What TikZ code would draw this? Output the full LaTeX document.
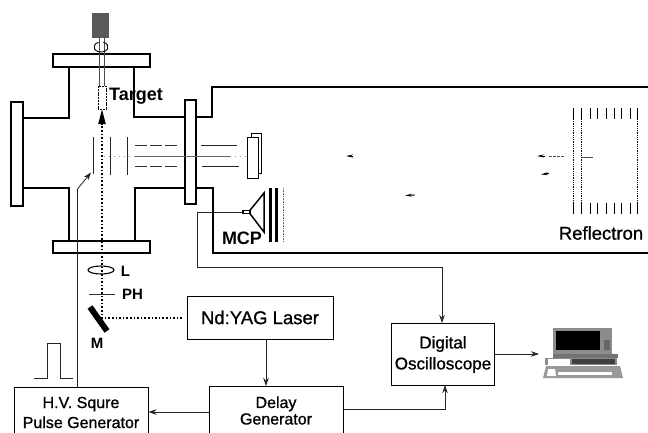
\documentclass[tikz,border=0pt]{standalone}
\usepackage{fontspec}
\setmainfont{Liberation Sans}
\newfontfamily\lab[FakeBold=0.9]{Liberation Sans}
\usetikzlibrary{arrows.meta}
\tikzset{
  x=1bp,y=-1bp,
  >={Stealth[length=8bp,width=5.5bp]},
  wall/.style={line width=2bp,black,line join=miter},
  flange/.style={draw=black,line width=2bp,fill=white},
  wire/.style={line width=0.8bp,black!85},
  plate/.style={line width=1bp,black!85},
  optic/.style={line width=1.6bp,black,dash pattern=on 1.6bp off 2bp},
  box/.style={draw=black,line width=1bp,fill=white,inner sep=0pt,align=center,font=\lab\fontsize{16bp}{20bp}\selectfont},
  bigtext/.style={inner sep=0pt,font=\lab\fontsize{18.5bp}{22bp}\selectfont},
  boldtext/.style={inner sep=0pt,font=\bfseries\fontsize{18bp}{22bp}\selectfont},
  smalltext/.style={inner sep=0pt,font=\bfseries\fontsize{15bp}{18bp}\selectfont},
  grid/.style={line width=0.9bp,black},
  griddot/.style={line width=1bp,black,dash pattern=on 0.9bp off 0.9bp},
  ion/.style={line width=0.9bp,black},
}
\begin{document}
\begin{tikzpicture}
\useasboundingbox (0,0) rectangle (648,432);
% vacuum chamber walls
\draw[wall] (69,67) -- (69,118) -- (23,118);
\draw[wall] (23,188) -- (69,188) -- (69,241);
\draw[wall] (134,67) -- (134,117) -- (185,117);
\draw[wall] (134.5,241) -- (134.5,188) -- (185,188);
\draw[wall] (196,117) -- (212,117) -- (212,87) -- (648,87);
\draw[wall] (196,188) -- (213,188) -- (213,253) -- (648,253);
% flanges
\draw[flange] (53,54) rectangle (150,67);
\draw[flange] (53,241) rectangle (150,253);
\draw[flange] (11,102) rectangle (22.5,206);
\draw[flange] (185,100) rectangle (196,204);
% target holder
\fill[black!65] (92,13) rectangle (109,38);
\draw[line width=0.8bp,black!70] (99,38) -- (99,86) (104,38) -- (104,86);
\draw[line width=0.9bp,black,dash pattern=on 2bp off 0.8bp,fill=white] (98,86) rectangle (106,109);
\draw[line width=0.9bp,black] (103.4,42.3) arc[start angle=-70,end angle=250,x radius=7,y radius=5];
\node[boldtext,anchor=west] (target) at (109,96) {Target};
% extraction plates and lenses
\coordinate (plateA) at (93.5,174);
\draw[plate] (93.5,137) -- (plateA);
\draw[plate] (110,137) -- (110,175);
\draw[plate] (127,137) -- (127,175);
\draw[line width=1bp,black!80,dash pattern=on 12bp off 3bp] (135,145.5) -- (178,145.5) (135,166) -- (178,166);
\draw[plate] (201,145.5) -- (237,145.5) (202,166) -- (239,166);
\draw[line width=0.6bp,black!60] (135,156) -- (230,156);
\draw[line width=0.5bp,black!45,dash pattern=on 1bp off 4bp] (104,156) -- (135,156) (230,156) -- (262,156);
% mass gate
\draw[line width=0.9bp,black,fill=white] (251,133.5) rectangle (261.5,173);
\draw[line width=0.9bp,black,fill=white] (247,137) rectangle (258.5,178);
% ion markers
\draw[->,ion,>={Stealth[length=7bp,width=3bp]}] (353,156) -- (346,156);
\draw[->,ion,>={Stealth[length=7bp,width=3bp]}] (415,195) -- (405,195.5);
\draw[->,ion,>={Stealth[length=7bp,width=3bp]}] (545,156) -- (537,156);
\draw[->,ion,>={Stealth[length=7bp,width=3bp]}] (549,173.5) -- (541,174.5);
\draw[line width=0.5bp,black!70,dash pattern=on 3bp off 1bp] (549,156) -- (565,156);
\draw[line width=0.5bp,black!70] (582,157) -- (593,157);
% reflectron
\foreach \gx in {573.3,581.3,590,597.3,606,614,621.7,630,637.3}{
  \draw[grid] (\gx,108) -- (\gx,119);
  \draw[grid] (\gx,203) -- (\gx,214);
}
\foreach \gx in {573.3,581.3,637.3}{\draw[griddot] (\gx,119) -- (\gx,203);}
\node[bigtext] (refl) at (601,233) {Reflectron};
% MCP detector
\draw[line width=1.1bp,black,fill=white] (243,210.3) rectangle (250,213.7);
\draw[line width=1.5bp,black] (250,210.3) -- (264,193) -- (264,232) -- (250,213.7);
\fill[black] (268.7,188) rectangle (272.4,242);
\fill[black] (275,188) rectangle (278.4,242);
\draw[line width=0.6bp,black!60,dash pattern=on 0.8bp off 0.8bp] (283.5,188) -- (283.5,242);
\node[boldtext] (mcp) at (242,238) {MCP};
% control boxes
\node[box,minimum width=146bp,minimum height=43bp,font=\lab\fontsize{18.5bp}{22bp}\selectfont] (laser) at (260,317.5) {Nd:YAG Laser};
\node[box,minimum width=134bp,minimum height=48bp,anchor=north west,font=\lab\fontsize{16bp}{16.5bp}\selectfont] (delay) at (208.5,386) {Delay\\Generator};
\node[box,minimum width=134bp,minimum height=50bp,anchor=north west] (hv) at (13.5,387) {H.V. Squre\\Pulse Generator};
\node[box,minimum width=103bp,minimum height=62bp,anchor=north west,font=\lab\fontsize{17bp}{21bp}\selectfont] (osc) at (391,323) {Digital\\Oscilloscope};
% optics
\coordinate (laserbeam) at (182,318);
\coordinate (mirrorpt) at (102,318);
\coordinate (tip) at (102,109.5);
\draw[optic] (laserbeam) -- (mirrorpt) -- (102,124);
\fill[black] (tip) -- (105.8,124) -- (98.2,124) -- cycle;
\draw[line width=6bp,black] (90,307) -- (107,331);
\node[smalltext] (mlabel) at (97,343) {M};
\draw[line width=1.1bp,black] (101,270) ellipse[x radius=13,y radius=4];
\node[smalltext] (llabel) at (125.5,271) {L};
\draw[line width=0.6bp,black!80] (89,294) -- (115,294);
\node[smalltext,anchor=west] (phlabel) at (122,294) {PH};
% electrical connections
\coordinate (mcptip) at (243,212);
\coordinate (oscA) at (442,323);
\coordinate (wireA) at (197.5,212);
\coordinate (wireB) at (197.5,267);
\coordinate (wireC) at (442,267);
\draw[wire,->] (mcptip) -- (wireA) -- (wireB) -- (wireC) -- (oscA);
\coordinate (la) at (266,339);
\coordinate (da) at (266,386);
\draw[wire,->] (la) -- (da);
\coordinate (ya) at (0,412);
\draw[wire,->] (delay.west |- ya) -- (hv.east |- ya);
\coordinate (yb) at (0,409);
\coordinate (yc) at (445,409);
\coordinate (yd) at (445,385);
\draw[wire,->] (delay.east |- yb) -- (yc) -- (yd);
\coordinate (comp) at (539,354);
\draw[wire,->] (osc.east |- comp) -- (comp);
\coordinate (hvA) at (77.5,387);
\coordinate (hvB) at (77.5,189);
\coordinate (hvC) at (91,172.5);
\draw[wire,->] (hvA) -- (hvB) -- (hvC);
\coordinate (pa) at (34,378);
\draw[wire] (pa) -- (47,378) -- (47,343.5) -- (60,343.5) -- (60,378) -- (73,378);
% computer
\fill[black!45] (553,328) rectangle (612,355);
\fill[black] (556,331) rectangle (600,350);
\fill[black!60] (604,340) rectangle (610,350);
\fill[black!55] (553,354) -- (618,354) -- (618,358) -- (553,358) -- cycle;
\fill[black!45] (545,358) rectangle (617,365);
\fill[white] (548,358.5) rectangle (570,364.5);
\fill[black!75] (572,359) rectangle (615,364);
\fill[black!40] (546,366) -- (620,366) -- (623,378) -- (543,378) -- cycle;
\fill[white] (548,369) -- (555,369) -- (556,376) -- (547,376) -- cycle;
\fill[white] (558,372) rectangle (612,375);
\end{tikzpicture}
\end{document}
